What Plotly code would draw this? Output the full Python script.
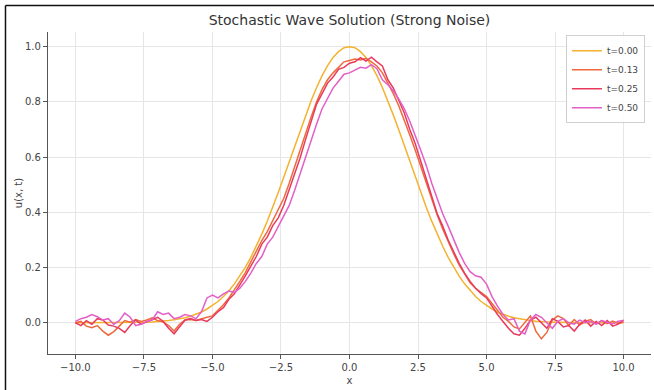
import numpy as np
import plotly.graph_objects as go

# x grid (-10 .. 10, step 0.2)
x = np.linspace(-10, 10, 101)

labels = ["t=0.00", "t=0.13", "t=0.25", "t=0.50"]
colors = ["#f4b22e", "#ee6a3c", "#e93a5e", "#e35fc8"]

# t = 0.00 (smooth initial profile) (x = 0 .. 10)
u_half = [1.000, 0.996, 0.982, 0.961, 0.931, 0.895, 0.852, 0.804, 0.752, 0.698,
          0.641, 0.584, 0.527, 0.472, 0.418, 0.368, 0.321, 0.277, 0.237, 0.201,
          0.169, 0.141, 0.116, 0.095, 0.077, 0.062, 0.050, 0.039, 0.031, 0.024,
          0.018, 0.014, 0.011, 0.008, 0.006, 0.004, 0.003, 0.002, 0.002, 0.001,
          0.001, 0.000, 0.000, 0.000, 0.000, 0.000, 0.000, 0.000, 0.000, 0.000,
          0.000]
u_t000 = u_half[::-1] + u_half[1:]

u_t013 = [0.000, 0.005, -0.012, -0.018, -0.010, -0.030, -0.045, -0.032, -0.012, 0.008,
          0.002, 0.012, 0.005, 0.010, 0.018, 0.008, 0.003, -0.010, -0.030, -0.005,
          0.010, 0.012, 0.008, 0.015, 0.020, 0.025, 0.045, 0.065, 0.090, 0.118,
          0.150, 0.182, 0.220, 0.255, 0.298, 0.330, 0.370, 0.405, 0.450, 0.505,
          0.565, 0.625, 0.690, 0.745, 0.800, 0.845, 0.880, 0.905, 0.925, 0.945,
          0.950, 0.955, 0.952, 0.958, 0.945, 0.930, 0.905, 0.870, 0.830, 0.785,
          0.735, 0.680, 0.625, 0.565, 0.505, 0.445, 0.390, 0.340, 0.292, 0.250,
          0.210, 0.175, 0.145, 0.125, 0.110, 0.095, 0.070, 0.045, 0.020, 0.005,
          -0.015, -0.022, 0.000, 0.025, -0.030, -0.058, -0.035, 0.010, 0.025, 0.015,
          -0.010, 0.012, -0.008, 0.005, 0.012, -0.005, 0.008, -0.003, 0.006, -0.002,
          0.003]

u_t025 = [0.000, -0.010, 0.008, -0.005, 0.015, 0.010, -0.008, -0.012, -0.020, -0.035,
          -0.010, 0.010, -0.005, 0.004, 0.012, 0.020, 0.005, -0.020, -0.040, -0.015,
          0.010, 0.015, 0.008, 0.012, 0.005, 0.020, 0.040, 0.055, 0.085, 0.105,
          0.135, 0.170, 0.205, 0.240, 0.285, 0.310, 0.352, 0.380, 0.425, 0.480,
          0.535, 0.598, 0.665, 0.725, 0.792, 0.830, 0.868, 0.890, 0.918, 0.925,
          0.940, 0.945, 0.960, 0.948, 0.962, 0.945, 0.930, 0.880, 0.850, 0.805,
          0.760, 0.700, 0.648, 0.585, 0.520, 0.455, 0.395, 0.350, 0.300, 0.258,
          0.215, 0.180, 0.150, 0.125, 0.105, 0.090, 0.060, 0.030, 0.005, -0.020,
          -0.040, -0.045, -0.020, 0.010, 0.020, 0.000, -0.020, 0.015, 0.005, -0.015,
          -0.010, -0.030, -0.005, 0.010, -0.012, 0.005, -0.010, 0.008, -0.012, -0.005,
          0.010]

u_t050 = [0.005, 0.015, 0.020, 0.030, 0.022, 0.010, 0.015, -0.005, 0.008, 0.035,
          0.020, -0.010, -0.005, 0.005, 0.010, 0.040, 0.030, 0.035, 0.015, 0.020,
          0.030, 0.025, 0.015, 0.040, 0.090, 0.100, 0.090, 0.105, 0.115, 0.110,
          0.125, 0.150, 0.180, 0.215, 0.240, 0.285, 0.310, 0.350, 0.385, 0.425,
          0.480, 0.540, 0.600, 0.665, 0.720, 0.775, 0.810, 0.850, 0.875, 0.900,
          0.905, 0.915, 0.925, 0.922, 0.935, 0.920, 0.880, 0.862, 0.840, 0.810,
          0.775, 0.730, 0.680, 0.625, 0.570, 0.505, 0.450, 0.395, 0.350, 0.300,
          0.255, 0.215, 0.185, 0.170, 0.165, 0.140, 0.095, 0.060, 0.030, 0.010,
          0.015, -0.030, -0.040, 0.010, 0.030, 0.020, 0.000, -0.020, 0.005, 0.015,
          0.000, -0.005, 0.010, 0.000, 0.005, -0.005, 0.008, 0.002, -0.004, 0.006,
          0.008]

series = [u_t000, u_t013, u_t025, u_t050]

fig = go.Figure()
for lab, col, ys in zip(labels, colors, series):
    fig.add_trace(go.Scatter(x=x, y=ys, mode="lines", name=lab,
                             line=dict(color=col, width=1.5)))

axis_common = dict(
    showline=True, linecolor="#555555", linewidth=1.2,
    ticks="outside", ticklen=4, tickcolor="#555555", tickwidth=1,
    showgrid=True, gridcolor="#e6e6e6", gridwidth=1,
    zeroline=False, mirror=False,
    tickfont=dict(family="DejaVu Sans", size=10, color="#444444"),
)

fig.update_layout(
    width=654, height=390,
    margin=dict(l=48, r=3, t=32, b=36),
    paper_bgcolor="white", plot_bgcolor="white",
    title=dict(text="Stochastic Wave Solution (Strong Noise)",
               xref="paper", x=0.5, xanchor="center",
               yref="container", y=0.948, yanchor="middle",
               font=dict(family="DejaVu Sans", size=14, color="#333333")),
    xaxis=dict(range=[-11, 11], tickmode="array",
               tickvals=[-10, -7.5, -5, -2.5, 0, 2.5, 5, 7.5, 10],
               tickformat=".1f",
               title=dict(text="x", standoff=4,
                          font=dict(family="DejaVu Sans", size=10, color="#444444")),
               **axis_common),
    yaxis=dict(range=[-0.113, 1.053], tickmode="array",
               tickvals=[0, 0.2, 0.4, 0.6, 0.8, 1.0], tickformat=".1f",
               title=dict(text="u(x, t)", standoff=0,
                          font=dict(family="DejaVu Sans", size=10, color="#444444")),
               **axis_common),
    legend=dict(x=0.99, y=0.99, xanchor="right", yanchor="top",
                bgcolor="rgba(255,255,255,0.85)", bordercolor="#d0d0d0", borderwidth=1,
                font=dict(family="DejaVu Sans", size=9, color="#444444"),
                itemwidth=30, tracegroupgap=0),
    showlegend=True,
)

# thin dark frame at the left/top edges of the picture
fig.add_shape(type="line", xref="paper", yref="paper",
              x0=-0.0705, x1=-0.0705, y0=-0.12, y1=1.0823,
              line=dict(color="#111111", width=1.5))
fig.add_shape(type="line", xref="paper", yref="paper",
              x0=-0.0705, x1=1.01, y0=1.0823, y1=1.0823,
              line=dict(color="#111111", width=1.5))

fig.write_html("out.html")
